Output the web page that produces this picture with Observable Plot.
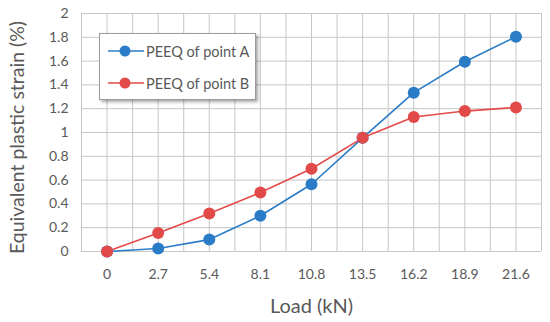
<!DOCTYPE html>
<html>
<head>
<meta charset="utf-8">
<script src="https://cdn.jsdelivr.net/npm/d3@7"></script>
<script src="https://cdn.jsdelivr.net/npm/@observablehq/plot@0.6"></script>
<style>
  html, body { margin: 0; padding: 0; background: #fff; }
  #wrap { position: relative; width: 550px; height: 322px; font-family: Lato, "Open Sans", sans-serif; }
  #legend { position: absolute; left: 99px; top: 33px; width: 157px; height: 67px; background: #fff;
    border: 1px solid #9a9a9a; box-shadow: 2px 2px 3px rgba(0,0,0,0.35); box-sizing: border-box; }
  .item { position: absolute; left: 8px; height: 20px; display: flex; align-items: center; font-size: 14.5px; color: #595959; }
  .item svg { margin-right: 2px; }
</style>
</head>
<body>
<div id="wrap"></div>
<script>
const loads = ["0", "2.7", "5.4", "8.1", "10.8", "13.5", "16.2", "18.9", "21.6"];
const peeqA = [0, 0.025, 0.10, 0.30, 0.565, 0.955, 1.335, 1.595, 1.805];
const peeqB = [0, 0.155, 0.32, 0.495, 0.695, 0.955, 1.13, 1.18, 1.21];
const seriesNames = ["PEEQ of point A", "PEEQ of point B"];
const colors = ["#2b7cc6", "#e24a4a"];
const yTicks = [0, 0.2, 0.4, 0.6, 0.8, 1, 1.2, 1.4, 1.6, 1.8, 2];

const rows = [];
loads.forEach((l, i) => {
  rows.push({i, load: l, v: peeqA[i], s: seriesNames[0]});
  rows.push({i, load: l, v: peeqB[i], s: seriesNames[1]});
});
const xIdx = loads.map((_, i) => i);
const xGrid = d3.range(-0.5, loads.length, 0.5);

const plot = Plot.plot({
  width: 550,
  height: 322,
  marginLeft: 81,
  marginRight: 9,
  marginTop: 13,
  marginBottom: 71,
  style: {fontFamily: "Lato, 'Open Sans', sans-serif", fontSize: "14px", color: "#595959", background: "#fff"},
  x: {type: "linear", domain: [-0.5, loads.length - 0.5], axis: null},
  y: {domain: [0, 2], axis: null},
  color: {domain: seriesNames, range: colors},
  marks: [
    Plot.ruleX(xGrid, {stroke: "#c6c6c6", strokeWidth: 1}),
    Plot.ruleY(yTicks, {stroke: "#c6c6c6", strokeWidth: 1}),
    Plot.axisY(yTicks, {tickSize: 0, tickPadding: 13, fontSize: 14, fill: "#595959", tickFormat: d => String(d), label: null}),
    Plot.axisX(xIdx, {tickSize: 0, tickPadding: 18, fontSize: 14, fill: "#595959", tickFormat: i => loads[i], label: null}),
    Plot.line(rows, {x: "i", y: "v", stroke: "s", z: "s", strokeWidth: 1.6}),
    Plot.dot(rows, {x: "i", y: "v", fill: "s", r: 6}),
    Plot.text(["Load (kN)"], {frameAnchor: "bottom", dy: 61, fontSize: 20, fill: "#595959"}),
    Plot.text(["Equivalent plastic strain (%)"], {frameAnchor: "left", textAnchor: "middle", dx: -64, dy: 5, rotate: -90, fontSize: 19.5, fill: "#595959"})
  ]
});
const wrap = document.getElementById("wrap");
wrap.appendChild(plot);

const legend = document.createElement("div");
legend.id = "legend";
seriesNames.forEach((n, k) => {
  const it = document.createElement("div");
  it.className = "item";
  it.style.top = (7 + k * 32) + "px";
  it.innerHTML = `<svg width="36" height="14"><line x1="0" x2="36" y1="7" y2="7" stroke="${colors[k]}" stroke-width="1.6"/><circle cx="17" cy="7" r="5.5" fill="${colors[k]}"/></svg><span>${n}</span>`;
  legend.appendChild(it);
});
wrap.appendChild(legend);
</script>
</body>
</html>
